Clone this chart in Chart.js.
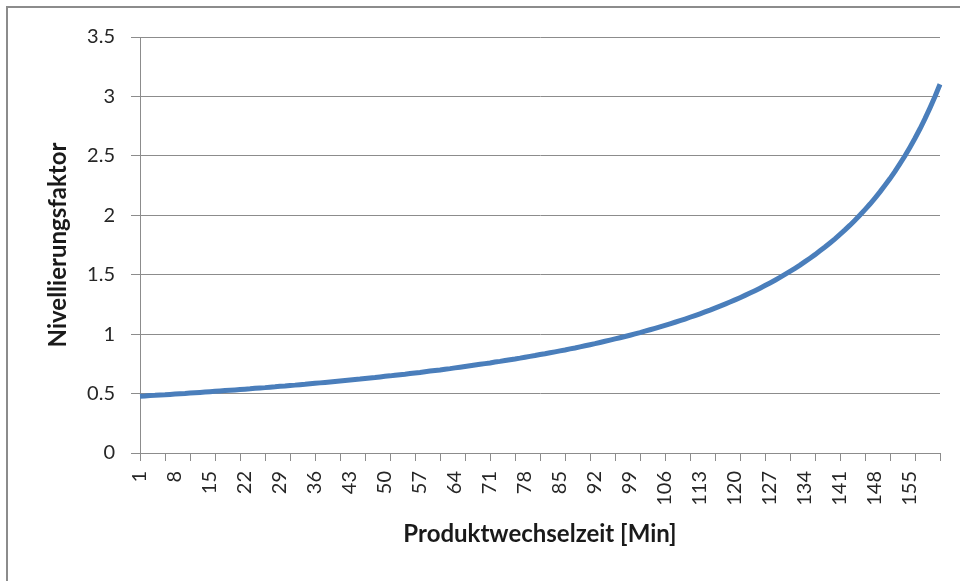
<!DOCTYPE html>
<html>
<head>
<meta charset="utf-8">
<script src="https://cdn.jsdelivr.net/npm/chart.js@4.4.1/dist/chart.umd.min.js"></script>
<style>
    html, body { margin: 0; padding: 0; background: #fff; overflow: hidden; }
    #wrap { position: relative; width: 960px; height: 581px; overflow: hidden; }
    #frame { position: absolute; left: 6px; top: 6px; width: 1000px; height: 1000px;
             border-left: 2px solid #8c8c8c; border-top: 2px solid #8c8c8c; }
    canvas { position: absolute; left: 0; top: 0; }
</style>
</head>
<body>
<div id="wrap">
    <div id="frame"></div>
    <canvas id="chart" width="960" height="581"></canvas>
</div>
<script>
// Produktwechselzeit in Minuten, 1 .. 161
const minutes = [];
for (let i = 1; i <= 161; i++) {
    minutes.push(i);
}

// Nivellierungsfaktor
const nivellierungsfaktor = [
    0.478, 0.480, 0.483, 0.485, 0.488, 0.490, 0.493, 0.496, 0.499, 0.501,
    0.504, 0.507, 0.510, 0.513, 0.516, 0.519, 0.522, 0.525, 0.528, 0.531,
    0.534, 0.537, 0.540, 0.544, 0.547, 0.550, 0.554, 0.557, 0.561, 0.564,
    0.568, 0.571, 0.575, 0.578, 0.582, 0.586, 0.590, 0.594, 0.598, 0.602,
    0.606, 0.610, 0.614, 0.618, 0.622, 0.627, 0.631, 0.635, 0.640, 0.645,
    0.649, 0.654, 0.659, 0.663, 0.668, 0.673, 0.678, 0.684, 0.689, 0.694,
    0.699, 0.705, 0.710, 0.716, 0.722, 0.728, 0.734, 0.740, 0.746, 0.752,
    0.758, 0.765, 0.771, 0.778, 0.785, 0.791, 0.798, 0.806, 0.813, 0.820,
    0.828, 0.835, 0.843, 0.851, 0.859, 0.867, 0.876, 0.884, 0.893, 0.902,
    0.911, 0.920, 0.930, 0.940, 0.950, 0.960, 0.970, 0.980, 0.991, 1.002,
    1.013, 1.025, 1.037, 1.049, 1.061, 1.074, 1.087, 1.100, 1.113, 1.127,
    1.142, 1.156, 1.171, 1.187, 1.202, 1.219, 1.235, 1.252, 1.270, 1.288,
    1.307, 1.326, 1.346, 1.366, 1.387, 1.409, 1.431, 1.454, 1.478, 1.503,
    1.528, 1.554, 1.581, 1.610, 1.639, 1.669, 1.701, 1.733, 1.767, 1.802,
    1.839, 1.877, 1.917, 1.959, 2.002, 2.048, 2.095, 2.145, 2.197, 2.252,
    2.309, 2.370, 2.434, 2.501, 2.573, 2.648, 2.728, 2.813, 2.904, 3.000,
    3.103
];

const yMin = 0;
const yMax = 3.5;
const yStep = 0.5;
const labelEvery = 7; // 1, 8, 15, ...
const tickEvery = 5;  // small tick marks on the x axis

const gridGrey = '#8c8c8c';
const textDark = '#262626';

const config = {
    type: 'line',
    data: {
        labels: minutes,
        datasets: [
            {
                label: 'Nivellierungsfaktor',
                data: nivellierungsfaktor,
                borderColor: '#4a7ebb',
                borderWidth: 5,
                pointRadius: 0,
                tension: 0,
                fill: false,
            }
        ]
    },
    options: {
        responsive: false,
        animation: false,
        layout: {
            padding: { top: 37, right: 20, bottom: 0, left: 0 },
        },
        plugins: {
            legend: { display: false },
            tooltip: { enabled: false },
        },
        scales: {
            x: {
                grid: {
                    drawOnChartArea: false,
                    drawTicks: true,
                    tickLength: 8,
                    color: gridGrey,
                    tickColor: (c) => (c.index % tickEvery === 0 ? gridGrey : 'rgba(0,0,0,0)'),
                },
                border: { color: gridGrey, width: 1 },
                ticks: {
                    autoSkip: false,
                    minRotation: 90,
                    maxRotation: 90,
                    padding: 10,
                    color: textDark,
                    font: { family: 'Lato', size: 20 },
                    callback: function (value, index) {
                        return index % labelEvery === 0 ? this.getLabelForValue(value) : '';
                    },
                },
                title: {
                    display: true,
                    text: 'Produktwechselzeit [Min]',
                    color: '#1a1a1a',
                    font: { family: 'Lato', size: 24, weight: 'bold' },
                    padding: { top: 0, bottom: 32 },
                },
                afterFit: (scale) => {
                    scale.height = 128;
                    scale.paddingRight = 0;
                    scale.paddingLeft = 0;
                },
            },
            y: {
                min: yMin,
                max: yMax,
                grid: {
                    color: gridGrey,
                    tickLength: 9,
                },
                border: { color: gridGrey, width: 1 },
                ticks: {
                    stepSize: yStep,
                    padding: 16,
                    color: textDark,
                    font: { family: 'Lato', size: 20 },
                    callback: (v) => String(v),
                },
                title: {
                    display: true,
                    text: 'Nivellierungsfaktor',
                    color: '#1a1a1a',
                    font: { family: 'Lato', size: 24, weight: 'bold' },
                    padding: { top: 44, bottom: 0 },
                },
                afterFit: (scale) => { scale.width = 140; },
            },
        },
    },
};

const ctx = document.getElementById('chart').getContext('2d');
const chart = new Chart(ctx, config);
</script>
</body>
</html>
